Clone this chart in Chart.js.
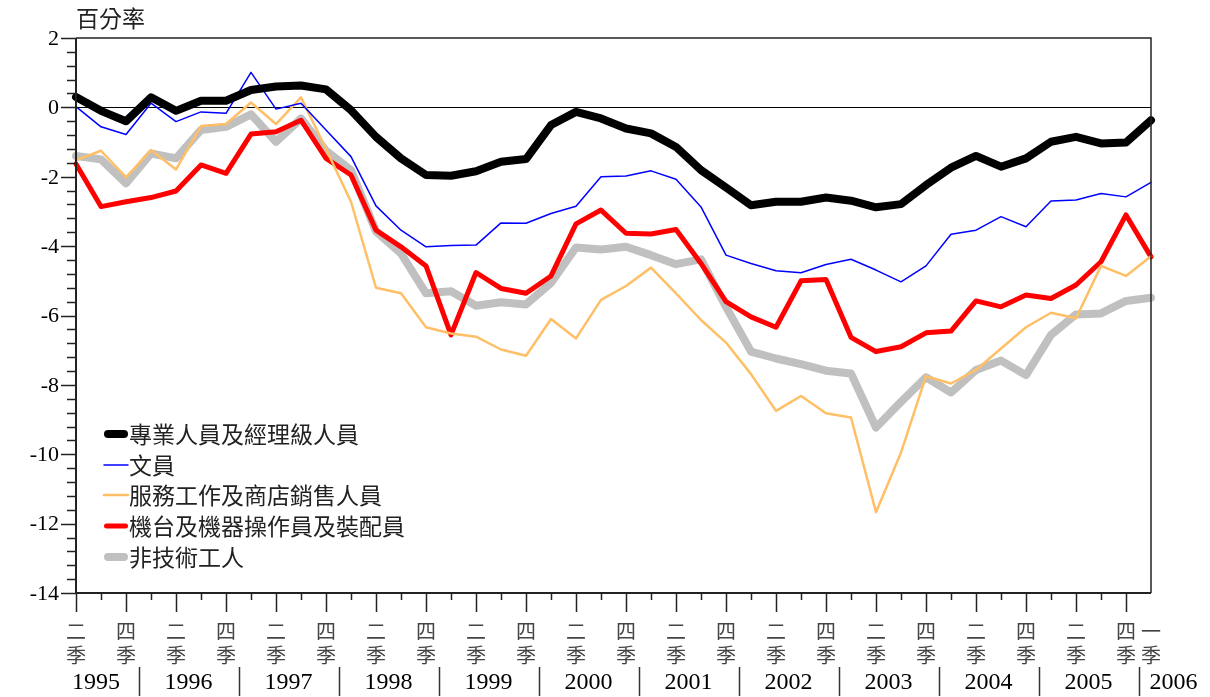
<!DOCTYPE html>
<html>
<head>
<meta charset="utf-8">
<script src="https://cdn.jsdelivr.net/npm/chart.js@4.4.0/dist/chart.umd.min.js"></script>
<style>
  html, body { margin: 0; padding: 0; background: #fff; }
  #wrap { width: 1210px; height: 697px; }
</style>
</head>
<body>
<div id="wrap"><canvas id="chart" width="1210" height="697"></canvas></div>
<script>
// quarters, 1995 Q2 .. 2006 Q1
const quarters = [
  '1995Q2','1995Q3','1995Q4',
  '1996Q1','1996Q2','1996Q3','1996Q4',
  '1997Q1','1997Q2','1997Q3','1997Q4',
  '1998Q1','1998Q2','1998Q3','1998Q4',
  '1999Q1','1999Q2','1999Q3','1999Q4',
  '2000Q1','2000Q2','2000Q3','2000Q4',
  '2001Q1','2001Q2','2001Q3','2001Q4',
  '2002Q1','2002Q2','2002Q3','2002Q4',
  '2003Q1','2003Q2','2003Q3','2003Q4',
  '2004Q1','2004Q2','2004Q3','2004Q4',
  '2005Q1','2005Q2','2005Q3','2005Q4',
  '2006Q1'
];
const years = ['1995','1996','1997','1998','1999','2000','2001','2002','2003','2004','2005','2006'];
// quarter tick labels (upper char, 季 goes under it)
const quarterTicks = [
  '二','','四',
  '','二','','四',
  '','二','','四',
  '','二','','四',
  '','二','','四',
  '','二','','四',
  '','二','','四',
  '','二','','四',
  '','二','','四',
  '','二','','四',
  '','二','','四',
  '一'
];
const yTicks = [2, 0, -2, -4, -6, -8, -10, -12, -14];

const seriesNames = ['專業人員及經理級人員', '文員', '服務工作及商店銷售人員', '機台及機器操作員及裝配員', '非技術工人'];

const professionals = [0.3, -0.1, -0.4, 0.29, -0.1, 0.19, 0.19, 0.5, 0.6, 0.63, 0.52, -0.08, -0.85, -1.47, -1.95,
  -1.97, -1.84, -1.57, -1.49, -0.51, -0.13, -0.32, -0.61, -0.75, -1.14, -1.81, -2.31, -2.82, -2.72, -2.72,
  -2.6, -2.69, -2.88, -2.79, -2.24, -1.74, -1.4, -1.71, -1.47, -0.99, -0.85, -1.04, -1.01, -0.37];
const clerks = [0.02, -0.56, -0.78, 0.12, -0.41, -0.13, -0.17, 1.01, -0.05, 0.12, -0.65, -1.42, -2.84, -3.54, -4.02,
  -3.98, -3.97, -3.33, -3.34, -3.06, -2.85, -2.0, -1.98, -1.83, -2.07, -2.87, -4.26, -4.5, -4.71, -4.77,
  -4.53, -4.38, -4.69, -5.03, -4.57, -3.66, -3.54, -3.15, -3.44, -2.7, -2.67, -2.48, -2.58, -2.16];
const service = [-1.52, -1.25, -2.02, -1.23, -1.79, -0.54, -0.48, 0.14, -0.48, 0.29, -1.2, -2.72, -5.2, -5.36, -6.34,
  -6.52, -6.61, -6.98, -7.16, -6.1, -6.66, -5.55, -5.15, -4.62, -5.36, -6.13, -6.78, -7.69, -8.75, -8.32,
  -8.82, -8.94, -11.67, -9.95, -7.75, -7.96, -7.57, -6.95, -6.34, -5.92, -6.08, -4.57, -4.86, -4.29];
const operators = [-1.63, -2.86, -2.72, -2.6, -2.41, -1.66, -1.9, -0.77, -0.7, -0.37, -1.47, -1.95, -3.54, -4.02, -4.57,
  -6.56, -4.76, -5.22, -5.36, -4.86, -3.36, -2.96, -3.63, -3.65, -3.52, -4.5, -5.6, -6.04, -6.34, -5.0,
  -4.96, -6.63, -7.04, -6.9, -6.5, -6.45, -5.58, -5.75, -5.41, -5.51, -5.12, -4.45, -3.1, -4.31];
const unskilled = [-1.4, -1.5, -2.19, -1.33, -1.47, -0.65, -0.56, -0.2, -0.99, -0.32, -1.25, -1.81, -3.58, -4.21, -5.36,
  -5.3, -5.72, -5.62, -5.68, -5.06, -4.04, -4.1, -4.02, -4.26, -4.52, -4.38, -5.75, -7.04, -7.24, -7.4,
  -7.59, -7.67, -9.23, -8.49, -7.78, -8.22, -7.57, -7.3, -7.72, -6.56, -5.97, -5.94, -5.58, -5.49];

const CJK = '"Noto Sans CJK TC", "Noto Sans CJK SC", sans-serif';
const NUM = '"Liberation Serif", "DejaVu Serif", serif';

function makeLine(label, data, color, width) {
  return {
    label: label,
    data: data,
    borderColor: color,
    backgroundColor: color,
    borderWidth: width,
    borderJoinStyle: 'round',
    borderCapStyle: 'round',
    pointRadius: 0,
    tension: 0,
    fill: false,
    clip: false
  };
}

// axes, frame, labels and legend drawn with the chart's own scales
const frame = {
  id: 'frame',
  beforeDatasetsDraw(chart) {
    const { ctx, chartArea: a, scales: { y } } = chart;
    ctx.save();
    ctx.strokeStyle = '#000';
    ctx.lineWidth = 1.2;
    const y0 = Math.round(y.getPixelForValue(0)) + 0.5;
    ctx.beginPath();
    ctx.moveTo(a.left, y0);
    ctx.lineTo(a.right, y0);
    ctx.stroke();
    ctx.restore();
  },
  afterDatasetsDraw(chart) {
    const { ctx, chartArea: a, scales: { x, y } } = chart;
    ctx.save();

    // top + right border
    ctx.strokeStyle = '#222';
    ctx.lineWidth = 1.5;
    ctx.beginPath();
    ctx.moveTo(a.left, a.top);
    ctx.lineTo(a.right, a.top);
    ctx.lineTo(a.right, a.bottom);
    ctx.stroke();

    // y axis + bottom axis
    ctx.lineWidth = 2;
    ctx.beginPath();
    ctx.moveTo(a.left, a.top);
    ctx.lineTo(a.left, a.bottom);
    ctx.lineTo(a.right, a.bottom);
    ctx.stroke();

    // y ticks: minor every 0.4, major every 2
    ctx.lineWidth = 1.5;
    for (let k = 0; k <= 40; k++) {
      const py = Math.round(y.getPixelForValue(-14 + k * 0.4)) + 0.5;
      const len = k % 5 === 0 ? 15 : 9;
      ctx.beginPath();
      ctx.moveTo(a.left - len, py);
      ctx.lineTo(a.left, py);
      ctx.stroke();
    }
    ctx.fillStyle = '#000';
    ctx.font = '22px ' + NUM;
    ctx.textAlign = 'right';
    ctx.textBaseline = 'middle';
    yTicks.forEach(v => {
      ctx.fillText(String(v), a.left - 17, y.getPixelForValue(v) + 1);
    });

    // x ticks
    for (let i = 0; i < quarters.length - 1; i++) {
      const px = Math.round(x.getPixelForValue(i)) + 0.5;
      const len = i % 2 === 0 ? 19 : 7;
      ctx.beginPath();
      ctx.moveTo(px, a.bottom);
      ctx.lineTo(px, a.bottom + len);
      ctx.stroke();
    }

    // quarter labels
    ctx.font = '20px ' + CJK;
    ctx.textAlign = 'center';
    ctx.fillStyle = '#444';
    quarterTicks.forEach((q, i) => {
      if (!q) return;
      const px = x.getPixelForValue(i);
      ctx.fillText(q, px, 631);
      ctx.fillText('季', px, 655);
    });

    // year labels and separators
    ctx.font = '24px ' + NUM;
    ctx.fillStyle = '#000';
    ctx.strokeStyle = '#333';
    ctx.lineWidth = 1.5;
    years.forEach(yr => {
      const idx = [];
      quarters.forEach((q, i) => { if (q.startsWith(yr)) idx.push(i); });
      const first = x.getPixelForValue(idx[0]);
      const last = x.getPixelForValue(idx[idx.length - 1]);
      if (idx[0] > 0) {
        const sx = Math.round(first - (x.getPixelForValue(1) - x.getPixelForValue(0)) / 2) + 0.5;
        ctx.beginPath();
        ctx.moveTo(sx, 667);
        ctx.lineTo(sx, 696);
        ctx.stroke();
        if (idx.length === 1) {
          ctx.textAlign = 'left';
          ctx.fillText(yr, sx + 10, 683);
          return;
        }
      }
      ctx.textAlign = 'center';
      ctx.fillText(yr, (first + last) / 2 - (idx[0] === 0 ? 5 : 0), 683);
    });

    // title
    ctx.font = '23px ' + CJK;
    ctx.textAlign = 'left';
    ctx.fillStyle = '#222';
    ctx.fillText('百分率', a.left, 18);

    // legend
    const rows = [434, 465, 495, 526, 557];
    chart.data.datasets.forEach((ds, i) => {
      const ly = rows[i];
      ctx.strokeStyle = ds.borderColor;
      ctx.lineWidth = ds.borderWidth;
      ctx.lineCap = 'round';
      const pad = ds.borderWidth > 3 ? ds.borderWidth / 2 : 0;
      ctx.beginPath();
      ctx.moveTo(a.left + 28 + pad, ly);
      ctx.lineTo(a.left + 52 - pad, ly);
      ctx.stroke();
      ctx.fillStyle = '#222';
      ctx.font = '23px ' + CJK;
      ctx.fillText(ds.label, a.left + 53, ly);
    });

    ctx.restore();
  }
};

new Chart(document.getElementById('chart').getContext('2d'), {
  type: 'line',
  data: {
    labels: quarters,
    datasets: [
      makeLine(seriesNames[0], professionals, '#000000', 8),
      makeLine(seriesNames[1], clerks, '#0000ff', 1.5),
      makeLine(seriesNames[2], service, '#ffbf66', 2.5),
      makeLine(seriesNames[3], operators, '#ff0000', 5),
      makeLine(seriesNames[4], unskilled, '#c0c0c0', 8)
    ]
  },
  options: {
    responsive: false,
    animation: false,
    devicePixelRatio: 1,
    layout: { padding: { left: 76, right: 59, top: 38, bottom: 104 } },
    scales: {
      x: { display: false, offset: false },
      y: { display: false, min: -14, max: 2 }
    },
    plugins: {
      legend: { display: false },
      tooltip: { enabled: false }
    }
  },
  plugins: [frame]
});
</script>
</body>
</html>
